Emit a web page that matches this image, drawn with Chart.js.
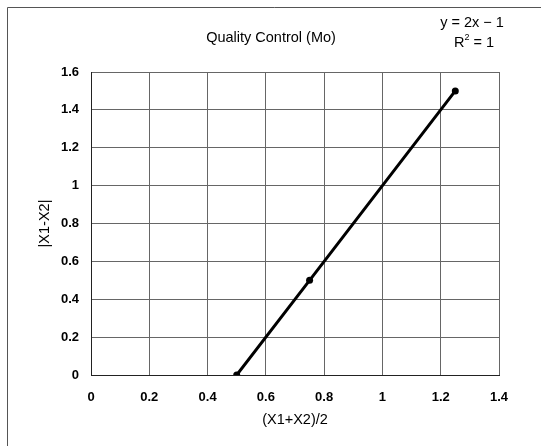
<!DOCTYPE html>
<html>
<head>
<meta charset="utf-8">
<script src="https://cdn.jsdelivr.net/npm/chart.js@4"></script>
<style>
  html, body { margin: 0; padding: 0; background: #fff; }
  canvas { display: block; }
</style>
</head>
<body>
<canvas id="qcChart" width="541" height="446"></canvas>
<script>
// Mean vs. absolute difference of duplicate Mo results
const meanValues = [0.5, 0.75, 1.25];
const diffValues = [0, 0.5, 1.5];
const xTicks = [0, 0.2, 0.4, 0.6, 0.8, 1, 1.2, 1.4];
const yTicks = [0, 0.2, 0.4, 0.6, 0.8, 1, 1.2, 1.4, 1.6];
const chartTitle = 'Quality Control (Mo)';
const equationText = 'y = 2x − 1';

const FONT = "'Liberation Sans', Arial, sans-serif";
const tickFont = { family: FONT, size: 13, weight: 'bold' };
const fmt = v => String(+Number(v).toFixed(1));

// Outer frame, title and trendline equation
const decorations = {
  id: 'decorations',
  afterDraw(chart) {
    const ctx = chart.ctx;
    ctx.save();
    ctx.strokeStyle = '#555';
    ctx.lineWidth = 1;
    ctx.beginPath();
    ctx.moveTo(7.5, 446);
    ctx.lineTo(7.5, 7.5);
    ctx.lineTo(541, 7.5);
    ctx.stroke();

    ctx.fillStyle = '#000';
    ctx.textAlign = 'center';
    ctx.textBaseline = 'middle';
    ctx.font = '14.5px ' + FONT;
    ctx.fillText(chartTitle, 271, 38);

    ctx.fillText(equationText, 472, 23);
    // R² = 1 with a raised 2
    const rW = ctx.measureText('R').width;
    const restW = ctx.measureText(' = 1').width;
    ctx.font = '9px ' + FONT;
    const supW = ctx.measureText('2').width;
    const total = rW + supW + restW;
    let x = 474 - total / 2;
    ctx.textAlign = 'left';
    ctx.font = '14.5px ' + FONT;
    ctx.fillText('R', x, 43);
    x += rW;
    ctx.font = '9px ' + FONT;
    ctx.fillText('2', x, 38);
    x += supW;
    ctx.font = '14.5px ' + FONT;
    ctx.fillText(' = 1', x, 43);
    ctx.restore();
  }
};

new Chart(document.getElementById('qcChart'), {
  type: 'scatter',
  data: {
    datasets: [{
      label: chartTitle,
      data: meanValues.map((x, i) => ({ x: x, y: diffValues[i] })),
      showLine: true,
      borderColor: '#000',
      borderWidth: 3,
      backgroundColor: '#000',
      pointRadius: 3.5,
      pointBackgroundColor: '#000',
      pointBorderWidth: 0
    }]
  },
  options: {
    responsive: false,
    animation: false,
    layout: { padding: { left: 30, right: 42, top: 72, bottom: 0 } },
    plugins: {
      legend: { display: false },
      title: { display: false },
      tooltip: { enabled: false }
    },
    scales: {
      x: {
        type: 'linear',
        min: 0,
        max: 1.4,
        afterBuildTicks: scale => { scale.ticks = xTicks.map(v => ({ value: v })); },
        afterFit: scale => { scale.height = 71; },
        ticks: { color: '#000', font: tickFont, padding: 15, maxRotation: 0, callback: fmt },
        grid: { color: '#666', lineWidth: 1, drawTicks: false },
        border: { color: '#222', width: 1 },
        title: {
          display: true,
          text: '(X1+X2)/2',
          color: '#000',
          font: { family: FONT, size: 14.5 },
          padding: { top: 0, bottom: 17 }
        }
      },
      y: {
        type: 'linear',
        min: 0,
        max: 1.6,
        afterBuildTicks: scale => { scale.ticks = yTicks.map(v => ({ value: v })); },
        afterFit: scale => { scale.width = 61; },
        ticks: { color: '#000', font: tickFont, padding: 12, callback: fmt },
        grid: { color: '#666', lineWidth: 1, drawTicks: false },
        border: { color: '#222', width: 1 },
        title: {
          display: true,
          text: '|X1-X2|',
          color: '#000',
          font: { family: FONT, size: 14.5 },
          padding: { top: 6, bottom: 0 }
        }
      }
    }
  },
  plugins: [decorations]
});
</script>
</body>
</html>
